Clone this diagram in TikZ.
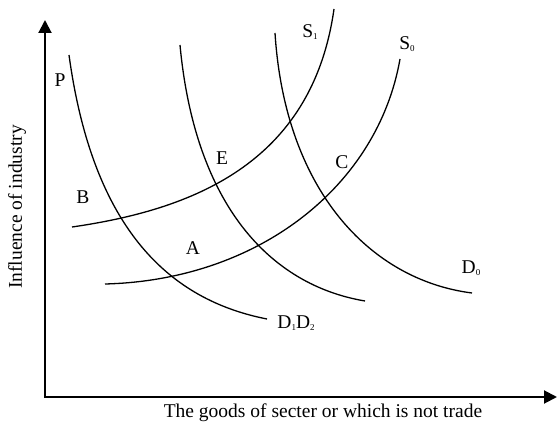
\documentclass[tikz,border=0pt]{standalone}
\usepackage{fontspec}
\setmainfont{Liberation Serif}
\usetikzlibrary{arrows.meta}

% tiny subscript as in the curve labels
\newcommand{\lowidx}[1]{\raisebox{-2.5pt}{\fontsize{9}{9}\selectfont #1}}

\begin{document}
\begin{tikzpicture}[
    x=1pt, y=-1pt,
    % axes and curves
    axis/.style={-{Triangle[length=13pt, width=13pt]}, line width=2pt},
    curve/.style={line width=1.3pt},
    lbl/.style={font=\fontsize{19.5}{22}\selectfont, inner sep=0pt}
]
    \useasboundingbox (0,0) rectangle (558,428);

    % --- Axes ---
    \coordinate (o) at (45,397);
    \coordinate (ytip) at (45,20);
    \coordinate (xtip) at (557,397);
    \draw[axis] (o) -- (ytip);
    \draw[axis] ([xshift=-1pt]o) -- (xtip);

    \node[lbl, rotate=90] (ylab) at (17,207) {Influence of industry};
    \node[lbl] (xlab) at (323,413) {The goods of secter or which is not trade};

    % --- Demand curves ---
    \draw[curve] (69,55) .. controls (93,230) and (170,300) .. (267,319);
    \draw[curve] (180,45) .. controls (195,205) and (270,285) .. (365,301);
    \draw[curve] (275,33) .. controls (285,190) and (370,280) .. (472,293);

    % --- Supply curves ---
    \draw[curve] (72,227) .. controls (190,210) and (312,165) .. (334,9);
    \draw[curve] (105,284) .. controls (260,280) and (378,185) .. (400,59);

    % --- Labels ---
    \node[lbl] (p) at (60,80) {P};
    \node[lbl] (b) at (83,197) {B};
    \node[lbl] (e) at (222,158) {E};
    \node[lbl] (a) at (193,248) {A};
    \node[lbl] (c) at (342,162) {C};
    \node[lbl] (s1) at (310,32) {S\lowidx{1}};
    \node[lbl] (s0) at (407,44) {S\lowidx{0}};
    \node[lbl] (d0) at (471,268) {D\lowidx{0}};
    \node[lbl] (d12) at (296,323) {D\lowidx{1}D\lowidx{2}};

\end{tikzpicture}
\end{document}
